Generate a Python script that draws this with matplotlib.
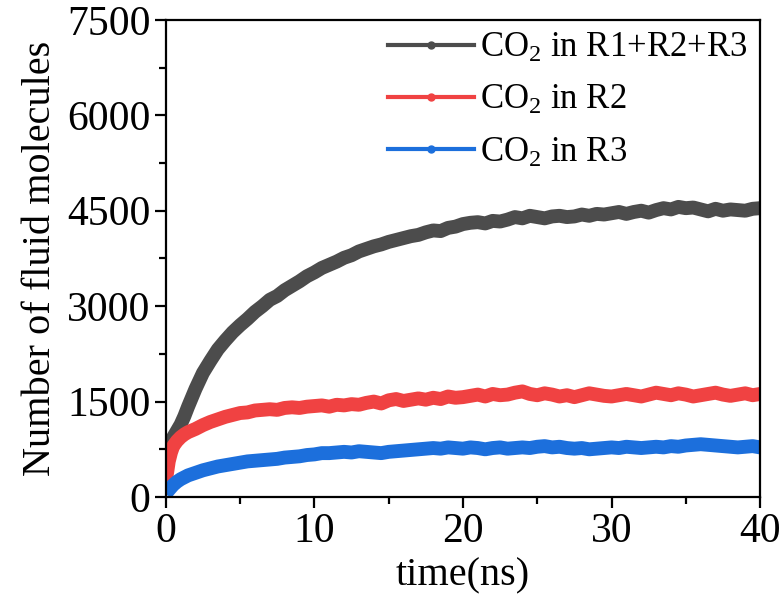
import matplotlib
matplotlib.use("Agg")
import matplotlib.pyplot as plt
from matplotlib.ticker import MultipleLocator
from matplotlib.lines import Line2D

plt.rcParams["font.family"] = ["Liberation Serif", "DejaVu Serif"]
plt.rcParams["mathtext.fontset"] = "custom"
plt.rcParams["mathtext.rm"] = "Liberation Serif"
plt.rcParams["mathtext.it"] = "Liberation Serif:italic"

# time axis (ns)
t = [0, 0.1, 0.2, 0.35, 0.5, 0.75, 1.0, 1.25,
     1.5, 2, 2.5, 3, 3.5, 4, 4.5, 5, 5.5, 6, 6.5, 7, 7.5, 8, 8.5, 9, 9.5,
     10, 10.5, 11, 11.5, 12, 12.5, 13, 13.5, 14, 14.5, 15, 15.5, 16, 16.5,
     17, 17.5, 18, 18.5, 19, 19.5, 20, 20.5, 21, 21.5, 22, 22.5, 23, 23.5,
     24, 24.5, 25, 25.5, 26, 26.5, 27, 27.5, 28, 28.5, 29, 29.5, 30, 30.5,
     31, 31.5, 32, 32.5, 33, 33.5, 34, 34.5, 35, 35.5, 36, 36.5, 37, 37.5,
     38, 38.5, 39, 39.5, 40]

co2_total = [650, 720, 790, 870, 940, 1040, 1140, 1270,
             1420, 1700, 1950, 2140, 2320, 2460, 2590, 2700, 2800, 2910,
             3000, 3100, 3160, 3250, 3320, 3390, 3470,
             3530, 3600, 3650, 3700, 3760, 3800, 3860, 3900, 3940, 3970,
             4010, 4040, 4070, 4100, 4120, 4160, 4190, 4180, 4230, 4250,
             4290, 4310, 4320, 4300, 4340, 4330, 4360, 4400, 4380, 4420,
             4400, 4380, 4410, 4420, 4400, 4410, 4440, 4420, 4450, 4440,
             4460, 4480, 4450, 4480, 4500, 4470, 4510, 4540, 4520, 4560,
             4540, 4550, 4520, 4490, 4530, 4500, 4520, 4510, 4500, 4530, 4540]

co2_r2 = [250, 400, 560, 700, 800, 880, 940, 985,
          1020, 1070, 1130, 1180, 1220, 1260, 1290, 1320, 1330, 1360,
          1370, 1380, 1370, 1400, 1410, 1400, 1420,
          1430, 1440, 1420, 1450, 1440, 1460, 1450, 1480, 1500, 1470,
          1520, 1540, 1510, 1530, 1550, 1530, 1560, 1540, 1580, 1560,
          1570, 1590, 1610, 1580, 1620, 1600, 1610, 1640, 1660, 1620,
          1600, 1630, 1610, 1580, 1600, 1570, 1600, 1630, 1610, 1590,
          1580, 1600, 1620, 1600, 1580, 1610, 1640, 1620, 1600, 1630,
          1610, 1580, 1600, 1620, 1640, 1610, 1590, 1610, 1630, 1600, 1620]

co2_r3 = [40, 80, 110, 150, 190, 240, 280, 310,
          340, 380, 420, 450, 480, 500, 520, 540, 560, 570,
          580, 590, 600, 620, 630, 640, 660,
          670, 690, 690, 700, 710, 700, 720, 710, 700, 690,
          710, 720, 730, 740, 750, 760, 770, 760, 780, 770,
          760, 780, 770, 750, 770, 780, 760, 770, 780, 770,
          790, 800, 780, 790, 770, 760, 770, 750, 760, 770,
          780, 770, 790, 780, 770, 780, 790, 780, 800, 790,
          810, 820, 830, 820, 810, 800, 790, 780, 790, 800, 780]

labels = ["CO$_2$ in R1+R2+R3", "CO$_2$ in R2", "CO$_2$ in R3"]
colors = ["#4c4c4c", "#f04242", "#1c6fdc"]

fig = plt.figure(figsize=(7.82, 6.01), dpi=100)
ax = fig.add_axes([0.212, 0.173, 0.760, 0.794])

for y, lab, c in zip([co2_total, co2_r2, co2_r3], labels, colors):
    ax.plot(t, y, color=c, lw=10, solid_joinstyle="round",
            solid_capstyle="butt", label=lab)

ax.set_xlim(0, 40)
ax.set_ylim(0, 7500)
ax.xaxis.set_major_locator(MultipleLocator(10))
ax.xaxis.set_minor_locator(MultipleLocator(5))
ax.yaxis.set_major_locator(MultipleLocator(1500))
ax.yaxis.set_minor_locator(MultipleLocator(750))
ax.tick_params(which="major", direction="out", length=8, width=1.6,
               labelsize=30, pad=3)
ax.tick_params(which="minor", direction="out", length=5, width=1.6)
for s in ax.spines.values():
    s.set_linewidth(1.6)

ax.set_xlabel("time(ns)", fontsize=29, labelpad=5)
ax.set_ylabel("Number of fluid molecules", fontsize=29, labelpad=6)

# legend handles: line with a small dot in the middle
handles = [Line2D([0, 0.5, 1], [0, 0, 0], color=c, lw=3, marker="o",
                  markersize=5, markevery=[1]) for c in colors]
ax.legend(handles, labels, loc="upper right", frameon=False, fontsize=25,
          handlelength=2.45, handletextpad=0.2, labelspacing=0.55,
          borderaxespad=0.1, borderpad=0.25, bbox_to_anchor=(1.0, 1.0))

fig.savefig("out.png", dpi=100)
